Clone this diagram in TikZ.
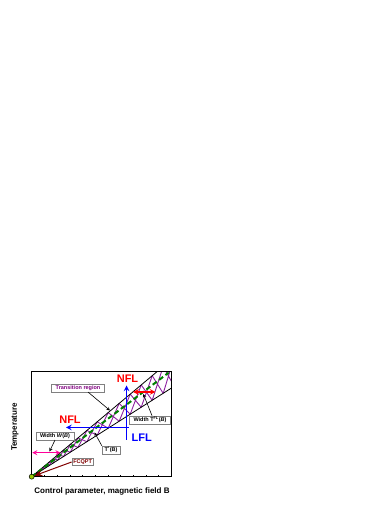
\documentclass[tikz,border=0pt]{standalone}
\usepackage{fontspec}
\setmainfont{Liberation Sans}
\usetikzlibrary{arrows.meta}
\definecolor{nflred}{RGB}{255,0,0}
\definecolor{lflblue}{RGB}{0,0,255}
\definecolor{regpurple}{RGB}{128,0,128}
\definecolor{hatchpurple}{RGB}{140,30,160}
\definecolor{linegreen}{RGB}{0,128,0}
\definecolor{wpink}{RGB}{255,0,153}
\definecolor{fcqred}{RGB}{128,0,0}
\definecolor{dotgreen}{RGB}{153,204,0}
\begin{document}
\begin{tikzpicture}[
    x=1pt, y=1pt,
    >=stealth,
    lbl/.style={
        draw=gray,
        fill=white,
        line width=0.5pt,
        inner xsep=2.5pt,
        inner ysep=1.2pt,
        font=\bfseries\fontsize{5.5}{6}\selectfont
    },
    ptr/.style={->, line width=0.6pt},
    bigtxt/.style={font=\bfseries\fontsize{11}{12}\selectfont},
    axtxt/.style={font=\bfseries\fontsize{8}{9}\selectfont},
    hatch/.style={draw=hatchpurple, line width=0.9pt}
]
    \useasboundingbox (0,0) rectangle (390,505);

    % corner points of the crossover band
    \coordinate (O) at (31.7,28.3);
    \coordinate (upEnd) at (157,133.3);
    \coordinate (lowEnd) at (171.7,117.1);
    \coordinate (midEnd) at (168.7,132.4);

    % hatching between the two band edges
    \begin{scope}
        \clip (31.7,28.3) rectangle (171.7,133.3);
        \begin{scope}[shift={(31.7,28.3)}]
            \foreach \s [remember=\s as \p (initially 0)] in
                {1.5,3.2,5.3,7.6,10.3,13.5,17.1,21.4,26.3,32,38.6,46.3,55.2,
                 65.5,76.5,87.5,98.5,109.5,120.5,131.5,142.5}
                \draw[hatch] ({\p},{0.838*\p}) -- ({\s},{0.634*\s})
                             ({\p},{0.634*\p}) -- ({\s},{0.838*\s});
        \end{scope}
    \end{scope}

    \draw[line width=0.8pt] (O) -- (upEnd);
    \draw[line width=0.8pt] (O) -- (lowEnd);
    \draw[linegreen, line width=2pt, dash pattern=on 5pt off 3pt] (O) -- (midEnd);

    % frame with ticks
    \draw[line width=1pt] (31.7,28.3) rectangle (171.7,133.3);
    \foreach \k in {1,...,10}
        \draw[line width=0.5pt] ({31.7+12.7*\k},28.3) -- ++(0,2);

    % phase arrows
    \coordinate (lflV) at (126.5,65);
    \coordinate (lflH) at (128.5,77.5);
    \coordinate (nflUpTip) at (126.5,119.5);
    \coordinate (nflLeftTip) at (66,77.5);
    \draw[->, lflblue, line width=1.5pt] (lflV) -- (nflUpTip);
    \draw[->, lflblue, line width=1.5pt] (lflH) -- (nflLeftTip);

    \node[bigtxt, text=nflred] (nflUp) at (127.5,126) {NFL};
    \node[bigtxt, text=nflred] (nflLeft) at (70,85) {NFL};
    \node[bigtxt, text=lflblue] (lfl) at (141.7,67.5) {LFL};

    % widths
    \coordinate (flL) at (133,113);
    \coordinate (flR) at (155.5,113);
    \draw[<->, nflred, line width=1.5pt] (flL) -- (flR);
    \coordinate (wL) at (32.3,52.3);
    \coordinate (wR) at (60.5,52.3);
    \draw[<->, wpink, line width=1.2pt] (wL) -- (wR);

    % labels
    \node[lbl, text=regpurple, inner xsep=4pt] (trans) at (78,117) {Transition region};
    \node[lbl, inner xsep=4pt] (tfl) at (150,85) {Width T\textsuperscript{FL}(\textit{B})};
    \node[lbl] (tstar) at (111,55) {T\textsuperscript{*}(B)};
    \node[lbl, inner xsep=4pt] (wb) at (55,69) {Width \textit{W}(\textit{B})};
    \node[lbl, text=fcqred, inner xsep=1.5pt] (fcqpt) at (82.7,43) {FCQPT};

    \coordinate (transTip) at (110,94.5);
    \coordinate (tflTip) at (143.3,111);
    \coordinate (tstarTip) at (94.5,72.5);
    \coordinate (wbTip) at (49.5,53.5);

    \draw[ptr] ([xshift=10pt]trans.south) -- (transTip);
    \draw[ptr] ([xshift=2pt]tfl.north) -- (tflTip);
    \draw[ptr] (tstar.north west) -- (tstarTip);
    \draw[ptr] (wb.south) -- (wbTip);

    \node[circle, draw, fill=dotgreen, inner sep=0pt, minimum size=5pt, line width=0.5pt] (qcp) at (O) {};
    \draw[fcqred, line width=1pt, -{Stealth[length=8pt,width=6pt]}] (fcqpt.west) -- (qcp);

    % axis titles
    \node[axtxt, rotate=90] (ylab) at (15,78) {Temperature};
    \node[axtxt] (xlab) at (102,13.5) {Control parameter, magnetic field B};
\end{tikzpicture}
\end{document}
